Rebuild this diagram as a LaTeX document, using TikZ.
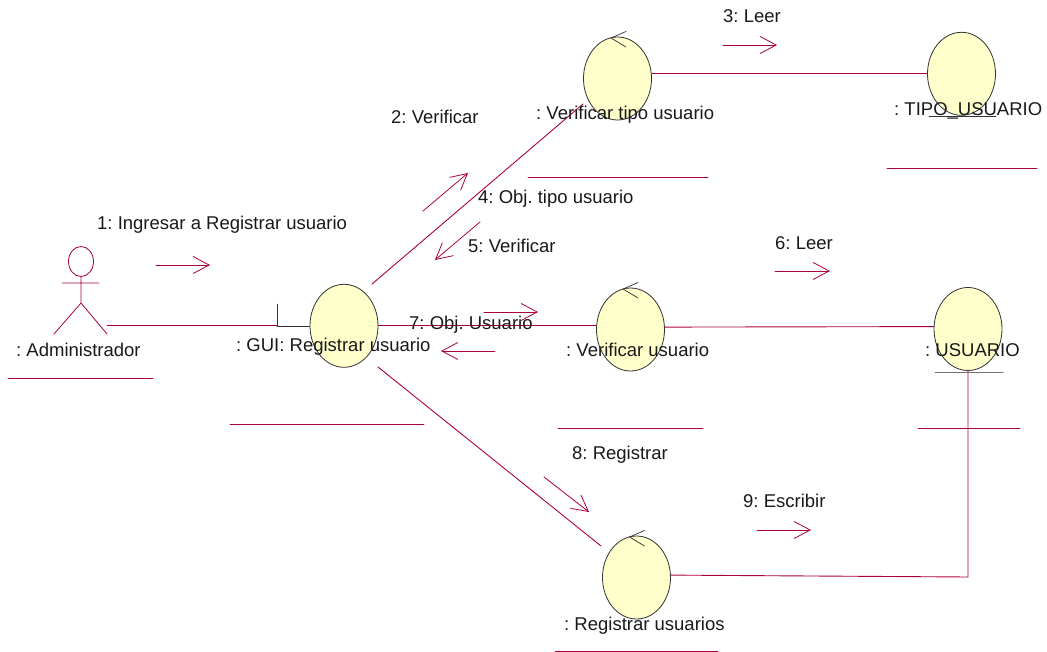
\documentclass[tikz,border=0pt]{standalone}
\usepackage{fontspec}
\setmainfont{Liberation Sans}
\usetikzlibrary{arrows.meta,shapes.geometric}
\definecolor{linea}{RGB}{170,0,66}
\definecolor{relleno}{RGB}{255,255,203}
\definecolor{borde}{RGB}{50,50,50}
\tikzset{
	obj/.style={ellipse, draw=borde, fill=relleno, line width=0.8pt, minimum width=68pt, minimum height=83pt, inner sep=0pt},
	rel/.style={draw=linea, line width=0.9pt},
	msg/.style={draw=linea, line width=0.8pt, -{Straight Barb[length=16pt,width=17pt,line width=0.8pt]}},
	subr/.style={draw=linea, line width=0.9pt},
	txt/.style={anchor=base west, inner sep=0pt, font=\fontsize{18.5}{20}\selectfont\frenchspacing, text=black!90}
}
\begin{document}
\begin{tikzpicture}[x=1pt,y=-1pt, line cap=round, line join=round]
	\useasboundingbox (0,0) rectangle (1047,652);

	% ===== objetos =====
	\node[obj] (gui) at (344,325.8) {};
	\node[obj] (vertipo) at (617.5,78.5) {};
	\node[obj] (tipo) at (961.5,73.8) {};
	\node[obj] (veruser) at (630.5,329.5) {};
	\node[obj] (usuario) at (968,329) {};
	\node[obj] (registrar) at (636.5,577.5) {};

	% ===== actor =====
	\draw[linea, line width=0.8pt] (81,261.5) ellipse (12.5 and 15);
	\draw[linea, line width=0.8pt] (62,283) -- (99,283) (81,276.5) -- (81,303) -- (54,334) (81,303) -- (107,334);
	\coordinate (admin) at (107,325.8);

	% ===== boundary, control, entity =====
	\coordinate (guibar) at (277,325.8);
	\draw[borde] (277,304) -- (guibar);
	\draw[borde] (guibar) -- (gui.west);
	\foreach \n/\x/\y in {vertipo/611/38, veruser/623/289, registrar/629.5/537}{
		\draw[borde, line width=0.7pt] (\x+15,\y-6.5) -- (\x,\y) -- (\x+15,\y+9);
	}
	\draw[black!55, line width=1pt] (935,372) -- (1003,372);
	\draw[borde, line width=0.7pt] (929,116.5) -- (996,116.5);

	% ===== relaciones =====
	\coordinate (guisup) at (372,284);
	\coordinate (tiposup) at (583,104);
	\coordinate (guiinf) at (378,367);
	\coordinate (reginf) at (601,546);
	\coordinate (esquina) at (968,577);
	\draw[rel] (admin) -- (guibar);
	\draw[rel] (gui.east) -- (gui.east -| veruser.west);
	\draw[rel] (vertipo.east |- tipo.west) -- (tipo.west);
	\draw[rel] (veruser.4) -- (usuario.176);
	\draw[rel] (guisup) -- (tiposup);
	\draw[rel] (guiinf) -- (reginf);
	\draw[rel] (registrar.4) -- (esquina) -- (usuario.south);

	% ===== subrayados =====
	\foreach \a/\b/\y in {8/153/378, 230/424/424, 528/708/177, 887/1037/168, 558/703/428, 918/1020/428, 555/718/651}{
		\draw[subr] (\a,\y) -- (\b,\y);
	}

	% ===== mensajes =====
	\foreach \xa/\ya/\xb/\yb in {156/265/210/265, 423/211/468/173, 723/45/777/45, 480/222/435/260, 775/271/830/271, 484/312/538/312, 495/351/441/351, 544/477/589/512, 757/530/811/530}{
		\draw[msg] (\xa,\ya) -- (\xb,\yb);
	}

	% ===== textos =====
	\node[txt] (t1) at (97,230) {1: Ingresar a Registrar usuario};
	\node[txt] (t2) at (391,124) {2: Verificar};
	\node[txt] (t3) at (723,23) {3: Leer};
	\node[txt] (t4) at (478,204) {4: Obj. tipo usuario};
	\node[txt] (t5) at (468,253) {5: Verificar};
	\node[txt] (t6) at (775,250) {6: Leer};
	\node[txt] (t7) at (409,330) {7: Obj. Usuario};
	\node[txt] (t8) at (572,459) {8: Registrar};
	\node[txt] (t9) at (743,507) {9: Escribir};
	\node[txt] (nadmin) at (16,356) {: Administrador};
	\node[txt] (ngui) at (236,352) {: GUI: Registrar usuario};
	\node[txt] (nvertipo) at (536,120) {: Verificar tipo usuario};
	\node[txt] (ntipo) at (894,116) {: TIPO\_USUARIO};
	\node[txt] (nveruser) at (566,356) {: Verificar usuario};
	\node[txt] (nusuario) at (925,356) {: USUARIO};
	\node[txt] (nregistrar) at (564,630) {: Registrar usuarios};
\end{tikzpicture}
\end{document}
